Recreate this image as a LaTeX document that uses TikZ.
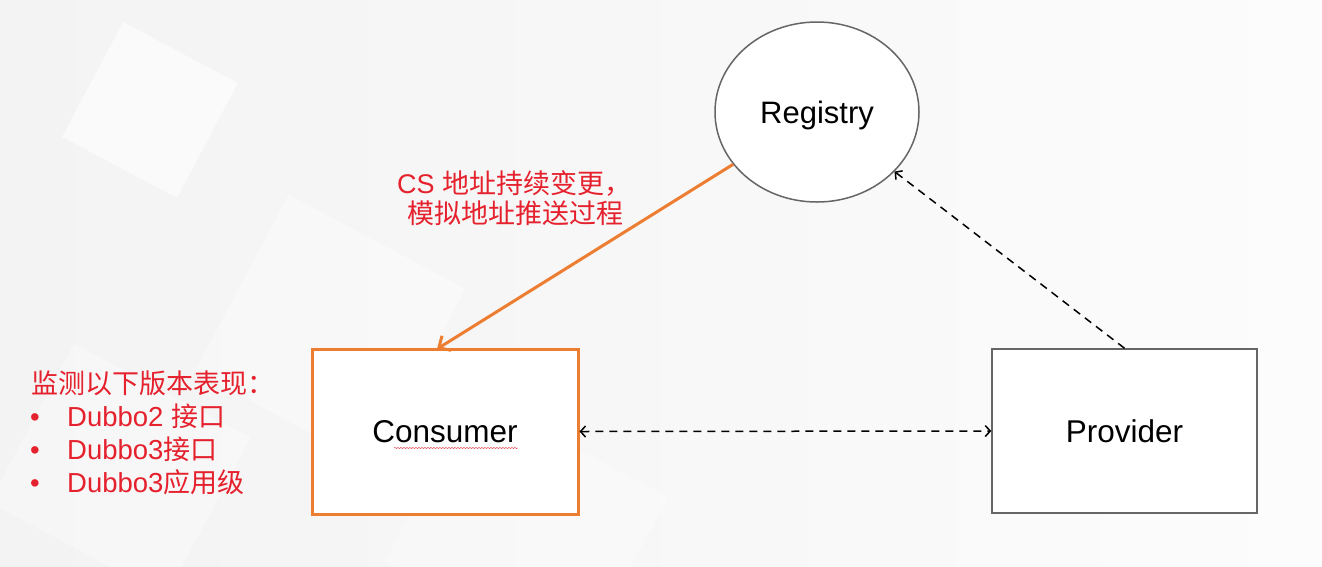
\documentclass[tikz,border=0pt]{standalone}
\usepackage{fontspec}
\setmainfont{Liberation Sans}
\newfontfamily\cjk{Noto Sans CJK SC}
\usetikzlibrary{arrows.meta,decorations.pathmorphing,shapes.geometric}
\definecolor{myred}{HTML}{E5212D}
\definecolor{myorange}{HTML}{ED7D31}
\definecolor{mygray}{HTML}{666666}
\definecolor{bgA}{HTML}{F3F3F3}
\definecolor{bgB}{HTML}{FCFCFC}
\begin{document}
\begin{tikzpicture}[x=1pt,y=-1pt,
  graybox/.style={draw=mygray, line width=1.5pt, fill=white, minimum width=265pt, minimum height=164pt, inner sep=0pt, font=\fontsize{31.5}{36}\selectfont, text depth=0pt},
  orangebox/.style={graybox, draw=myorange, line width=3pt},
  regnode/.style={ellipse, draw=mygray, line width=1.5pt, fill=white, minimum width=204pt, minimum height=180pt, inner sep=0pt, font=\fontsize{31}{36}\selectfont, text depth=0pt},
  redtxt/.style={text=myred, font=\fontsize{27}{32}\selectfont, inner sep=0pt, anchor=base west},
  listtxt/.style={text=myred, font=\fontsize{27.5}{32}\selectfont, inner sep=0pt, anchor=base west},
  cjklist/.style={font=\fontsize{27}{32}\selectfont\cjk},
  dashlink/.style={dash pattern=on 8pt off 6pt, line width=1.5pt, black}
]
\useasboundingbox (0,0) rectangle (1322,566);
% background
\fill[left color=bgA, right color=bgB] (0,0) rectangle (1322,566);
\fill[white, opacity=0.6, rotate around={-28:(150,110)}] (85,45) rectangle (215,175);
\fill[white, opacity=0.35, rotate around={-28:(330,330)}] (230,230) rectangle (430,430);
\fill[white, opacity=0.3, rotate around={-28:(120,470)}] (20,380) rectangle (220,560);
\fill[white, opacity=0.3, rotate around={-28:(520,520)}] (420,430) rectangle (640,620);

% nodes
\node[regnode] (reg) at (817,112) {Registry};
\node[orangebox, minimum width=266pt, minimum height=165pt] (cons) at (445,431.5) {Consumer};
\node[graybox] (prov) at (1124.5,431) {Provider};
\coordinate (constop) at (437,349);

% spell-check squiggle
\draw[myred!80, line width=0.5pt, decorate, decoration={snake, amplitude=0.6pt, segment length=3pt}] (394,448) -- (518,448);

% connectors
\draw[myorange, line width=3pt, -{Straight Barb[length=9pt,width=17pt]}] (reg) -- (constop);
\draw[dashlink, {Straight Barb[length=5pt,width=11pt]}-{Straight Barb[length=5pt,width=11pt]}] (cons.east) -- (prov.west);
\draw[dashlink, -{Straight Barb[length=5pt,width=11pt]}] (prov.north) -- (reg);

% red label
\node[redtxt] (lab1) at (397,193) {CS {\cjk 地址持续变更，}};
\node[redtxt] (lab2) at (407,223) {\cjk 模拟地址推送过程};

% left list
\node[listtxt, cjklist] (l0) at (31,393) {监测以下版本表现：};
\node[listtxt] (b1) at (30,426) {•};
\node[listtxt] (l1) at (67,426) {Dubbo2 {\fontsize{27}{32}\selectfont\cjk 接口}};
\node[listtxt] (b2) at (30,459) {•};
\node[listtxt] (l2) at (67,459) {Dubbo3{\fontsize{27}{32}\selectfont\cjk 接口}};
\node[listtxt] (b3) at (30,492) {•};
\node[listtxt] (l3) at (67,492) {Dubbo3{\fontsize{27}{32}\selectfont\cjk 应用级}};
\end{tikzpicture}
\end{document}
